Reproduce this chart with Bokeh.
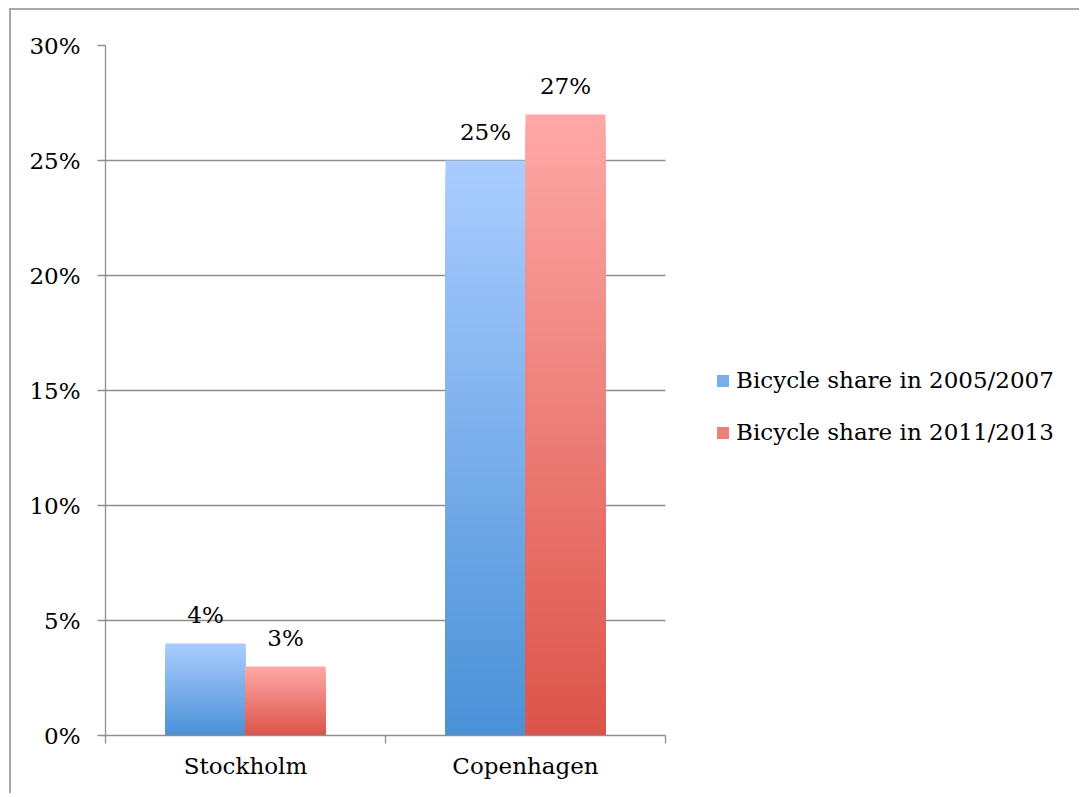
from bokeh.plotting import figure
from bokeh.models import (ColumnDataSource, Range1d, FixedTicker, Legend, LegendItem)
from bokeh.transform import dodge
from bokeh.core.properties import value
from bokeh.embed import file_html
from bokeh.resources import INLINE

# Data
cities = ["Stockholm", "Copenhagen"]
share_2005_2007 = [4, 25]
share_2011_2013 = [3, 27]
series_names = ["Bicycle share in 2005/2007", "Bicycle share in 2011/2013"]
y_ticks = [0, 5, 10, 15, 20, 25, 30]

FONT = "DejaVu Serif"
FS = "23px"
GRAY = "#8e8e8e"

# Gradient end colours per series (top, bottom)
blue_top, blue_bottom = (170, 205, 255), (74, 144, 215)
red_top, red_bottom = (255, 168, 166), (219, 84, 74)
N_SLICES = 60
SLOT_PX = 280            # horizontal size of one city slot, in pixels
BAR_W = 80 / SLOT_PX
OFFSET = 40 / SLOT_PX

W, H = 1070, 785
LEFT, TOP, BOTTOM = 94, 35, 60
FRAME_W = W - LEFT       # frame runs to the right edge; the legend sits in it

# each city occupies one unit slot on the x axis; its centre is at slot + 0.5
slot_centres = [i + 0.5 for i in range(len(cities))]


def hex_color(c):
    return "#%02x%02x%02x" % tuple(int(round(v)) for v in c)


def gradient_source(values, top_c, bottom_c):
    # Each bar is painted as nested slices from 0 up, tallest (lightest) first,
    # so the visible band between consecutive tops carries its own shade.
    xs, tops, colors = [], [], []
    for xc, v in zip(slot_centres, values):
        for i in reversed(range(N_SLICES)):
            t = (i + 0.5) / N_SLICES
            c = [bottom_c[k] + (top_c[k] - bottom_c[k]) * t for k in range(3)]
            xs.append(xc)
            tops.append(v * (i + 1) / N_SLICES)
            colors.append(hex_color(c))
    return ColumnDataSource(dict(slot=xs, top=tops, color=colors))


p = figure(x_range=Range1d(0, FRAME_W / SLOT_PX),
           y_range=Range1d(0, 30),
           width=W, height=H,
           output_backend="svg", toolbar_location=None,
           min_border_left=LEFT, min_border_top=TOP, min_border_bottom=BOTTOM,
           min_border_right=0)
p.styles = {"border-left": "2px solid #a8a8a8", "border-top": "2px solid #a8a8a8",
            "margin-left": "9px", "margin-top": "8px"}
p.outline_line_color = None
p.background_fill_color = "white"
p.border_fill_color = "white"

# Bars
src_a = gradient_source(share_2005_2007, blue_top, blue_bottom)
src_b = gradient_source(share_2011_2013, red_top, red_bottom)
p.vbar(x=dodge("slot", -OFFSET), top="top", bottom=0, width=BAR_W,
       source=src_a, fill_color="color", line_color=None)
p.vbar(x=dodge("slot", OFFSET), top="top", bottom=0, width=BAR_W,
       source=src_b, fill_color="color", line_color=None)

# Value labels
lab_a = ColumnDataSource(dict(slot=slot_centres, y=share_2005_2007,
                              text=[f"{v}%" for v in share_2005_2007]))
lab_b = ColumnDataSource(dict(slot=slot_centres, y=share_2011_2013,
                              text=[f"{v}%" for v in share_2011_2013]))
for src, off in ((lab_a, -OFFSET), (lab_b, OFFSET)):
    p.text(x=dodge("slot", off), y="y", text="text", source=src,
           text_align="center", text_baseline="alphabetic", y_offset=-29,
           text_font=value(FONT), text_font_size=FS, text_color="black")

# Legend swatches (single bars parked outside the visible x range)
sw_a = p.vbar(x=[-10], top=[1], width=0.1, fill_color=hex_color(
    [(a + b) / 2 for a, b in zip(blue_top, blue_bottom)]), line_color=None)
sw_b = p.vbar(x=[-10], top=[1], width=0.1, fill_color=hex_color(
    [(a + b) / 2 for a, b in zip(red_top, red_bottom)]), line_color=None)
legend = Legend(items=[LegendItem(label=series_names[0], renderers=[sw_a]),
                       LegendItem(label=series_names[1], renderers=[sw_b])],
                location=(len(cities) * SLOT_PX + 50, 290), orientation="vertical",
                glyph_width=15, glyph_height=15, label_standoff=6,
                spacing=26, padding=0, margin=0,
                border_line_color=None, background_fill_alpha=0,
                label_text_font=FONT, label_text_font_size=FS,
                label_text_color="black")
p.add_layout(legend, "center")

# Y axis
p.yaxis.ticker = FixedTicker(ticks=y_ticks)
p.yaxis.major_label_overrides = {t: f"{t}%" for t in y_ticks}
p.yaxis.major_label_text_font = FONT
p.yaxis.major_label_text_font_size = FS
p.yaxis.major_label_text_color = "black"
p.yaxis.major_label_standoff = 17
p.yaxis.axis_line_color = GRAY
p.yaxis.axis_line_width = 1.3
p.yaxis.major_tick_line_color = GRAY
p.yaxis.major_tick_line_width = 1.3
p.yaxis.major_tick_out = 8
p.yaxis.major_tick_in = 0
p.yaxis.minor_tick_line_color = None

# Horizontal grid only across the city slots
p.ygrid.ticker = FixedTicker(ticks=y_ticks)
p.ygrid.grid_line_color = GRAY
p.ygrid.grid_line_width = 1.3
p.ygrid.cross_bounds = (0, len(cities))
p.xgrid.grid_line_color = None

# X axis: tick marks at slot boundaries, city names at slot centres
xaxis = p.xaxis[0]
xaxis.bounds = (0, len(cities))
xaxis.ticker = FixedTicker(ticks=slot_centres,
                           minor_ticks=list(range(len(cities) + 1)))
xaxis.major_label_overrides = {c: name for c, name in zip(slot_centres, cities)}
xaxis.major_tick_out = 0
xaxis.major_tick_in = 0
xaxis.major_tick_line_color = None
xaxis.minor_tick_out = 8
xaxis.minor_tick_in = 0
xaxis.minor_tick_line_color = GRAY
xaxis.minor_tick_line_width = 1.3
xaxis.axis_line_color = GRAY
xaxis.axis_line_width = 1.3
xaxis.major_label_standoff = 9
xaxis.major_label_text_font = FONT
xaxis.major_label_text_font_size = FS
xaxis.major_label_text_color = "black"

open("out.html", "w").write(file_html(p, INLINE))
